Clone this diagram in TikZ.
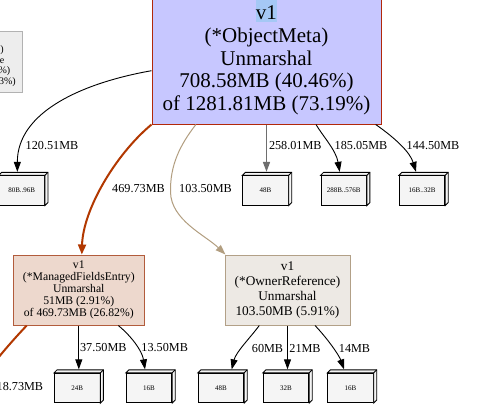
\documentclass[tikz,border=0pt]{standalone}
\usepackage{fontspec}
\setmainfont{Liberation Serif}
\usetikzlibrary{arrows.meta}
\definecolor{mainfill}{RGB}{199,199,255}
\definecolor{mainborder}{RGB}{178,40,10}
\definecolor{hl}{RGB}{165,200,245}
\definecolor{mfefill}{RGB}{237,216,205}
\definecolor{mfeborder}{RGB}{178,92,60}
\definecolor{rededge}{RGB}{178,56,0}
\definecolor{ownfill}{RGB}{237,233,228}
\definecolor{ownborder}{RGB}{178,160,135}
\definecolor{tanedge}{RGB}{178,158,128}
\definecolor{grayedge}{RGB}{110,110,110}
\definecolor{cubefill}{RGB}{245,245,245}
\definecolor{gbfill}{RGB}{237,237,237}
\definecolor{gbborder}{RGB}{178,178,178}
\begin{document}
\begin{tikzpicture}[x=1pt,y=-1pt,
  mainbox/.style={draw=mainborder, fill=mainfill, line width=1pt, minimum width=229pt, minimum height=127pt, align=center, inner sep=0pt, font=\fontsize{21}{22.7}\selectfont},
  mfebox/.style={draw=mfeborder, fill=mfefill, line width=1pt, minimum width=131pt, minimum height=70pt, align=center, inner sep=0pt, font=\fontsize{11.7}{12.1}\selectfont},
  ownbox/.style={draw=ownborder, fill=ownfill, line width=1pt, minimum width=125pt, minimum height=70pt, align=center, inner sep=0pt, font=\fontsize{13.3}{15.3}\selectfont},
  graybox/.style={draw=gbborder, fill=gbfill, line width=1pt, minimum width=60pt, minimum height=61pt, inner sep=0pt},
  graytext/.style={inner sep=0pt, anchor=base east, font=\fontsize{10}{10.5}\selectfont},
  cube/.style={draw, fill=cubefill, line width=0.8pt, minimum width=45.5pt, minimum height=29.5pt, inner sep=0pt, font=\fontsize{7}{8}\selectfont},
  cubeline/.style={draw, fill=cubefill, line width=0.8pt, line join=miter},
  elabel/.style={inner sep=0pt, font=\fontsize{12.2}{13}\selectfont},
  blackedge/.style={draw=black, line width=0.9pt, -{Triangle[length=10pt,width=7pt]}},
  grayedgest/.style={draw=grayedge, line width=1.6pt, -{Triangle[length=10pt,width=7pt]}},
  rededgest/.style={draw=rededge, line width=2pt, -{Triangle[length=10pt,width=8pt]}},
  redfree/.style={draw=rededge, line width=2pt},
  tanedgest/.style={draw=tanedge, line width=1pt, -{Triangle[length=10pt,width=7pt]}}
]
\clip (0,0) rectangle (488,416);
\fill[white] (0,0) rectangle (488,416);

% gray partial node at the left
\node[graybox, anchor=north east] (gb) at (23,31) {};
\node[graytext] (gt1) at (4,52.5) {)};
\node[graytext] (gt2) at (4.5,63) {e};
\node[graytext] (gt3) at (10.5,73.5) {\%)};
\node[graytext] (gt4) at (16,84) {3\%)};

% main node
\node[mainbox] (main) at (266.5,60.5) {\smash{\rlap{\textcolor{hl}{\rule[-2.6pt]{21pt}{23.5pt}}}}v1\\(*ObjectMeta)\\Unmarshal\\708.58MB (40.46\%)\\of 1281.81MB (73.19\%)};

% second-level nodes
\node[mfebox] (mfe) at (78.8,290) {v1\\(*ManagedFieldsEntry)\\Unmarshal\\51MB (2.91\%)\\of 469.73MB (26.82\%)};
\node[ownbox] (own) at (287.5,290) {v1\\(*OwnerReference)\\Unmarshal\\103.50MB (5.91\%)};

% cubes
\node[cube] (c80) at (21.75,190.5) {80B..96B};
\node[cube] (c48a) at (265.5,190.5) {48B};
\node[cube] (c288) at (343.7,190.5) {288B..576B};
\node[cube] (c1632) at (422,190.5) {16B..32B};
\node[cube] (c24) at (77.2,388) {24B};
\node[cube] (c16a) at (149,388) {16B};
\node[cube] (c48b) at (221,388) {48B};
\node[cube] (c32) at (286,388) {32B};
\node[cube] (c16b) at (350.5,388) {16B};
\foreach \c in {c80,c48a,c288,c1632,c24,c16a,c48b,c32,c16b}{
  \draw[cubeline] (\c.north west) -- ++(3,-3) -- ([shift={(3,-3)}]\c.north east) -- ([shift={(3,-3)}]\c.south east) -- (\c.south east) -- (\c.north east) -- cycle;
  \draw[line width=0.8pt] (\c.north east) -- ++(3,-3);
}

% edges from main
\draw[blackedge] ([yshift=-10.2pt]main.west) .. controls (82,83) and (17.3,112) .. ([xshift=-4.4pt,yshift=3.5pt]c80.north);
\draw[rededgest] (main.south west) .. controls (115,155) and (83,210) .. ([xshift=3pt]mfe.north);
\draw[tanedgest] ([xshift=44.4pt]main.south west) .. controls (180,145) and (170,165) .. (170.5,192) .. controls (171,220) and (205,235) .. ([xshift=1pt]own.north west);
\draw[grayedgest] (main.south) -- ([yshift=3.5pt]main.south |- c48a.north);
\draw[blackedge] ([xshift=49.5pt]main.south) .. controls (322,135) and (336,150) .. ([xshift=-4pt,yshift=3.5pt]c288.north);
\draw[blackedge] ([xshift=109.2pt]main.south) .. controls (395,138) and (410,152) .. ([xshift=-6pt,yshift=3.5pt]c1632.north);

% edges from ManagedFieldsEntry
\coordinate (offl) at (-14,373);
\draw[redfree] ([xshift=-52.1pt]mfe.south) .. controls (15,338) and (4,350) .. (offl);
\draw[blackedge] (mfe.south) -- ([yshift=3.5pt]mfe.south |- c24.north);
\draw[blackedge] ([xshift=39.5pt]mfe.south) .. controls (130,335) and (142,350) .. ([xshift=-4pt,yshift=3.5pt]c16a.north);

% edges from OwnerReference
\draw[blackedge] ([xshift=-28.2pt]own.south) .. controls (250,338) and (236,352) .. ([xshift=10.7pt,yshift=3.5pt]c48b.north);
\draw[blackedge] (own.south) -- ([yshift=3.5pt]own.south |- c32.north);
\draw[blackedge] ([xshift=27.5pt]own.south) .. controls (327,338) and (339,355) .. ([xshift=-6.5pt,yshift=3.5pt]c16b.north);

% edge labels
\node[elabel] (l1) at (52,146) {120.51MB};
\node[elabel] (l2) at (138.5,189) {469.73MB};
\node[elabel] (l3) at (205.5,189) {103.50MB};
\node[elabel] (l4) at (295.3,146) {258.01MB};
\node[elabel] (l5) at (361,146) {185.05MB};
\node[elabel] (l6) at (433,146) {144.50MB};
\node[elabel, anchor=east] (l7) at (43.3,386.7) {18.73MB};
\node[elabel] (l8) at (103.3,348) {37.50MB};
\node[elabel] (l9) at (164.7,348) {13.50MB};
\node[elabel] (l10) at (267.5,348) {60MB};
\node[elabel] (l11) at (305,348) {21MB};
\node[elabel] (l12) at (354.5,348) {14MB};
\end{tikzpicture}
\end{document}
